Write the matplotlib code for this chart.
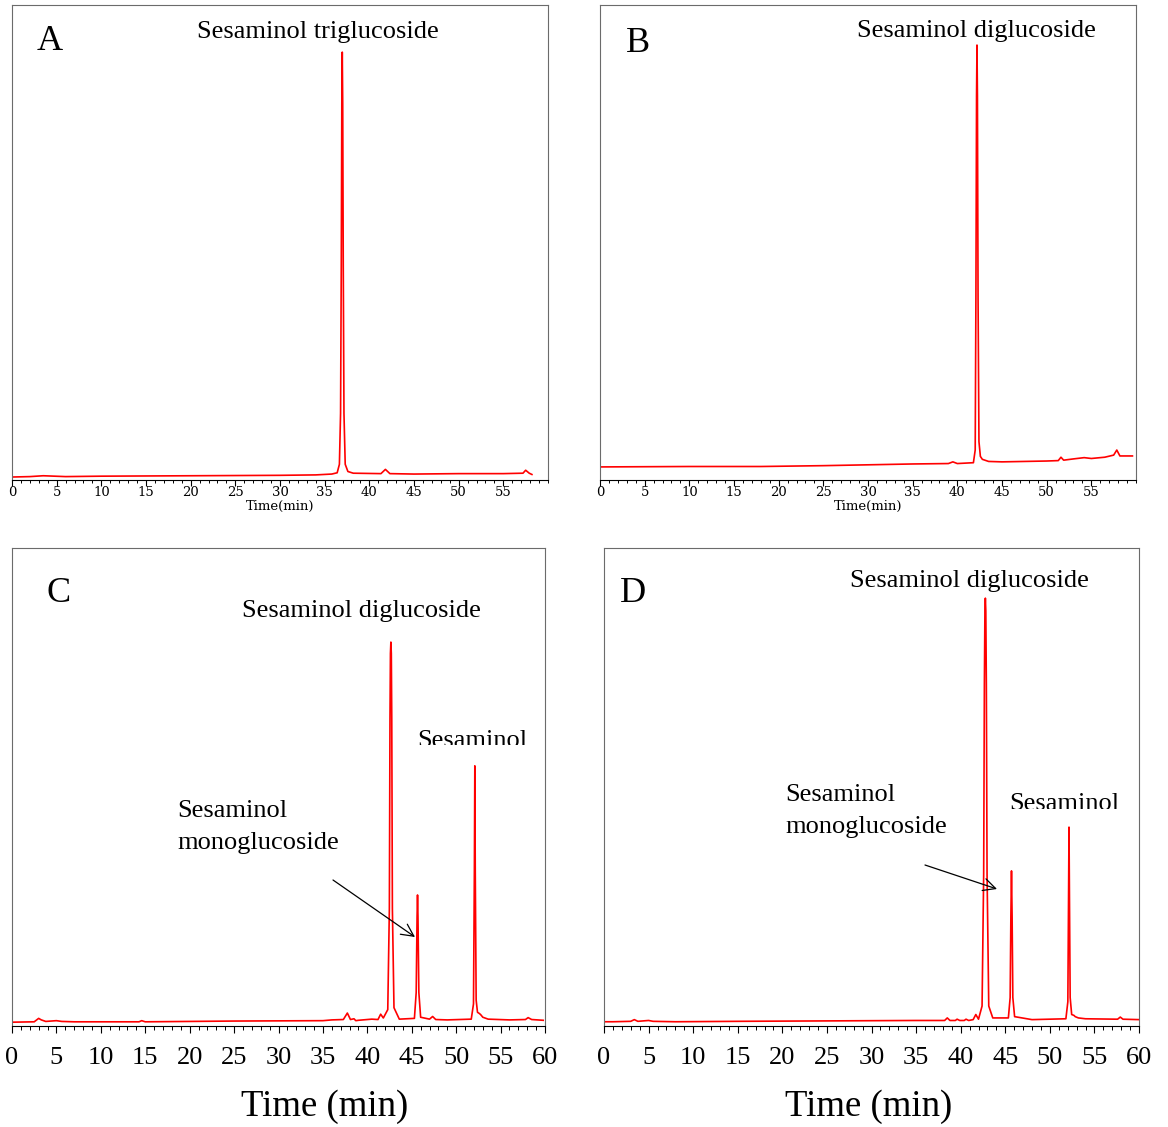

# Chromatograms of sesaminol glucosides (four panels)

import numpy as np
import matplotlib.pyplot as plt
from matplotlib.ticker import MultipleLocator
from matplotlib.patches import Rectangle


# Data (retention time in min, signal in arbitrary units) --------------

# A - sesaminol triglucoside standard
time_a = [0, 2, 3.5, 6, 10, 20, 30, 34, 35.8, 36.4,
          36.65, 36.78, 36.86, 36.92, 36.97, 37.02, 37.08, 37.16, 37.3, 37.6,
          38.2, 41.3, 41.8, 42.3, 45, 50, 55, 57.2, 57.5, 57.9, 58.2]
signal_a = [0.0, 0.1, 0.3, 0.1, 0.2, 0.3, 0.4, 0.5, 0.7, 1.0,
            3.0, 15, 50, 88, 100, 88, 50, 15, 3.0, 1.3,
            0.9, 0.8, 1.8, 0.8, 0.7, 0.8, 0.8, 0.9, 1.6, 0.9, 0.6]

# B - sesaminol diglucoside standard
time_b = [0, 10, 18, 25, 30, 35, 39, 39.5, 40, 41.8,
          42.0, 42.08, 42.15, 42.2, 42.25, 42.32, 42.42, 42.58, 42.8, 43.5,
          45, 50, 51.3, 51.6, 51.9, 53, 54.2, 55, 56.5, 57.5,
          57.85, 58.2, 59.6]
signal_b = [0.0, 0.1, 0.1, 0.3, 0.5, 0.7, 0.8, 1.2, 0.8, 1.0,
            4, 40, 88, 100, 88, 40, 6, 2.5, 1.8, 1.3,
            1.2, 1.4, 1.5, 2.3, 1.6, 1.9, 2.2, 2.0, 2.3, 2.8,
            4.0, 2.6, 2.6]

# C - hydrolysate sample 1
time_c = [0, 2.5, 3.0, 3.3, 3.8, 5.0, 5.6, 7, 14.3, 14.6,
          15, 25, 35, 36, 37.3, 37.75, 38.1, 38.5, 38.7, 39,
          40.5, 41.2, 41.5, 41.8, 42.3, 42.48, 42.55, 42.6, 42.65, 42.7,
          42.75, 42.82, 43.0, 43.6, 45.3, 45.5, 45.6, 45.65, 45.7, 45.8,
          46.0, 47.0, 47.35, 47.7, 49, 51.7, 51.95, 52.05, 52.1, 52.15,
          52.25, 52.4, 52.6, 52.75, 53.0, 53.6, 56, 57.8, 58.1, 58.5,
          59.8]
signal_c = [0.2, 0.3, 1.2, 0.8, 0.4, 0.6, 0.4, 0.3, 0.3, 0.6,
            0.3, 0.5, 0.6, 0.8, 0.9, 2.6, 0.9, 1.1, 0.6, 0.7,
            1.0, 0.9, 2.3, 1.3, 3.5, 30, 80, 97, 100, 97,
            80, 30, 4, 1.0, 1.2, 8, 28, 33.6, 28, 8,
            1.5, 1.0, 1.7, 0.9, 0.8, 1.0, 5, 40, 67.5, 40,
            6, 2.8, 2.5, 2.2, 1.5, 1.0, 0.8, 0.9, 1.4, 0.9,
            0.7]

# D - hydrolysate sample 2
time_d = [0, 1, 3.0, 3.4, 3.8, 5.0, 5.5, 8, 15, 25,
          35, 38.2, 38.5, 38.8, 39.4, 39.6, 39.9, 40.4, 40.6, 40.9,
          41.4, 41.7, 42.0, 42.4, 42.58, 42.66, 42.72, 42.77, 42.82, 42.88,
          42.96, 43.15, 43.6, 45.35, 45.55, 45.63, 45.7, 45.77, 45.85, 46.05,
          48, 51.8, 52.02, 52.1, 52.15, 52.2, 52.28, 52.45, 52.7, 52.85,
          53.2, 54, 57.6, 57.9, 58.2, 60]
signal_d = [0.3, 0.3, 0.4, 0.8, 0.4, 0.6, 0.4, 0.3, 0.4, 0.5,
            0.6, 0.6, 1.2, 0.6, 0.6, 0.9, 0.6, 0.6, 0.9, 0.6,
            0.8, 2.0, 0.9, 4, 35, 80, 97, 100, 97, 80,
            35, 4, 1.2, 1.2, 6, 25, 35.8, 25, 6, 1.5,
            0.8, 1.0, 5, 30, 46.1, 30, 6, 2.0, 1.8, 1.5,
            1.2, 1.0, 0.9, 1.4, 0.9, 0.8]


# Layout helpers (reference pixels, origin top-left) -------------------
W, H = 1168, 1127


def box(x0, y0, x1, y1):
    return [x0 / W, 1 - y1 / H, (x1 - x0) / W, (y1 - y0) / H]


def fig_text(x, y, s, size, ha="center", va="center", **kw):
    return fig.text(x / W, 1 - y / H, s, fontsize=size, ha=ha, va=va, **kw)


def white_strip(x0, y0, x1, y1):
    # Covers the lower part of a label (the original is cut off there)
    fig.add_artist(Rectangle((x0 / W, 1 - y1 / H), (x1 - x0) / W,
                             (y1 - y0) / H, transform=fig.transFigure,
                             facecolor="white", edgecolor="none", zorder=5))


def arrow(x0, y0, x1, y1):
    fig.add_artist(plt.Annotation(
        "", xy=(x1 / W, 1 - y1 / H), xytext=(x0 / W, 1 - y0 / H),
        xycoords="figure fraction", textcoords="figure fraction",
        arrowprops=dict(arrowstyle="->", lw=0.9, color="black",
                        mutation_scale=22, shrinkA=0, shrinkB=0)))


def style_panel(ax, small):
    ax.set_xlim(0, 60)
    ax.set_yticks([])
    for side in ["top", "left", "right"]:
        ax.spines[side].set_color("#6b6b6b")
    ax.spines["bottom"].set_color("black")
    ax.xaxis.set_minor_locator(MultipleLocator(1))

    if(small == True):
        ax.set_xticks(np.arange(0, 56, 5))
        ax.tick_params(axis="x", which="major", length=4, width=0.8,
                       pad=0.5, labelsize=9.5, labelfontfamily="DejaVu Serif")
        ax.tick_params(axis="x", which="minor", length=2.5, width=0.7)
        ax.set_xlabel("Time(min)", fontsize=9.5, family="DejaVu Serif",
                      labelpad=0.5)
    else:
        ax.set_xticks(np.arange(0, 61, 5))
        ax.tick_params(axis="x", which="major", length=5, width=0.8,
                       pad=10, labelsize=19)
        ax.tick_params(axis="x", which="minor", length=3, width=0.7)


plt.rcParams["font.family"] = ["Liberation Serif", "DejaVu Serif"]

fig = plt.figure(figsize=(W / 100, H / 100), dpi=100)

ax_a = fig.add_axes(box(12, 5, 548, 480))
ax_b = fig.add_axes(box(600, 5, 1136, 480))
ax_c = fig.add_axes(box(12, 548, 545, 1026))
ax_d = fig.add_axes(box(604, 548, 1139, 1026))

traces = [(ax_a, time_a, signal_a, (-0.7, 111.1), True),
          (ax_b, time_b, signal_b, (-3.1, 109.5), True),
          (ax_c, time_c, signal_c, (-0.8, 124.7), False),
          (ax_d, time_d, signal_d, (-0.7, 111.8), False)]

for ax, t, s, ylim, small in traces:
    ax.plot(t, s, color="red", lw=1.2)
    ax.set_ylim(*ylim)
    style_panel(ax, small)


# Annotations ----------------------------------------------------------
fs = 19
fig_text(50, 42, "A", 26)
fig_text(318, 32, "Sesaminol triglucoside", fs)
fig_text(638, 44, "B", 26)
fig_text(976, 31, "Sesaminol diglucoside", fs)

fig_text(59, 594, "C", 26)
fig_text(361, 611, "Sesaminol diglucoside", fs)
fig_text(472, 741, "Sesaminol", fs)
white_strip(410, 745, 535, 757)
fig_text(177, 811, "Sesaminol", fs, ha="left")
fig_text(177, 843, "monoglucoside", fs, ha="left")
arrow(333, 880, 415, 937)

fig_text(633, 594, "D", 26)
fig_text(969, 581, "Sesaminol diglucoside", fs)
fig_text(1064, 804, "Sesaminol", fs)
white_strip(1003, 809, 1125, 820)
fig_text(785, 795, "Sesaminol", fs, ha="left")
fig_text(785, 827, "monoglucoside", fs, ha="left")
arrow(925, 865, 997, 889)

fig_text(325, 1107, "Time (min)", 26.5)
fig_text(869, 1107, "Time (min)", 26.5)

fig.savefig("out.png", dpi=100)
plt.close(fig)
